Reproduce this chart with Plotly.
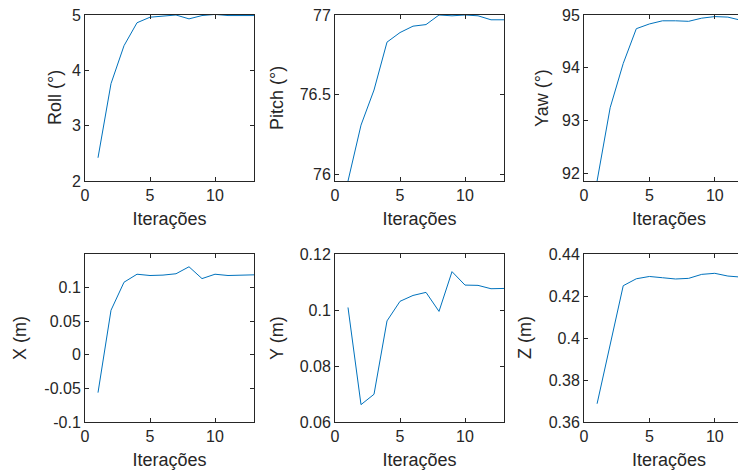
import plotly.graph_objects as go

iters = [1, 2, 3, 4, 5, 6, 7, 8, 9, 10, 11, 12, 13]
roll = [2.42, 3.76, 4.445, 4.86, 4.96, 4.98, 5.0, 4.93, 4.99, 5.01, 4.99, 4.99, 4.99]
pitch = [75.96, 76.31, 76.53, 76.83, 76.89, 76.93, 76.94, 77.0, 76.995, 77.0, 76.995, 76.97, 76.97]
yaw = [91.85, 93.24, 94.08, 94.74, 94.83, 94.89, 94.89, 94.88, 94.94, 94.97, 94.96, 94.90, 94.89]
xpos = [-0.0563, 0.0663, 0.108, 0.1199, 0.118, 0.1186, 0.1206, 0.131, 0.1134, 0.1199, 0.118, 0.119, 0.119]
ypos = [0.1009, 0.0662, 0.0699, 0.0961, 0.1031, 0.1052, 0.1063, 0.0995, 0.1137, 0.1089, 0.1088, 0.1076, 0.1077]
zpos = [0.3687, 0.397, 0.4249, 0.4282, 0.4293, 0.4287, 0.4281, 0.4284, 0.4303, 0.4308, 0.4295, 0.429, 0.429]

series = [roll, pitch, yaw, xpos, ypos, zpos]
ylabels = ["Roll (°)", "Pitch (°)", "Yaw (°)", "X (m)", "Y (m)", "Z (m)"]
yranges = [[2, 5], [75.96, 77], [91.85, 95], [-0.1, 0.15], [0.06, 0.12], [0.36, 0.44]]
ytickvals = [[2, 3, 4, 5], [76, 76.5, 77], [92, 93, 94, 95],
             [-0.1, -0.05, 0, 0.05, 0.1], [0.06, 0.08, 0.1, 0.12], [0.36, 0.38, 0.4, 0.42, 0.44]]
yticktext = [["2", "3", "4", "5"], ["76", "76.5", "77"], ["92", "93", "94", "95"],
             ["-0.1", "-0.05", "0", "0.05", "0.1"], ["0.06", "0.08", "0.1", "0.12"],
             ["0.36", "0.38", "0.4", "0.42", "0.44"]]
xlabel = "Iterações"

W, H = 746, 474
OFF = 8  # default page body margin
col_px = [(85, 254), (335, 504), (584, 754)]
row_px = [(15, 181), (254, 422)]
ytitle_x_px = [55, 277, 542, 20, 277, 525]

fig = go.Figure()
ink = "#262626"
font_family = "Liberation Sans, Arial, sans-serif"
tick_size = 16
label_size = 18

for i, vals in enumerate(series):
    r, c = divmod(i, 3)
    n = i + 1
    xa = "xaxis" if n == 1 else f"xaxis{n}"
    ya = "yaxis" if n == 1 else f"yaxis{n}"
    xref = "x" if n == 1 else f"x{n}"
    yref = "y" if n == 1 else f"y{n}"
    fig.add_trace(go.Scatter(x=iters, y=vals, mode="lines",
                             line=dict(color="#0072BD", width=1),
                             xaxis=xref, yaxis=yref, showlegend=False))
    x0, x1 = [v - OFF for v in col_px[c]]
    y0, y1 = [v - OFF for v in row_px[r]]
    fig.layout[xa] = dict(
        domain=[x0 / W, min(x1 / W, 1)], anchor=yref, range=[0, 13],
        tickvals=[0, 5, 10], ticktext=["0", "5", "10"],
        ticks="inside", ticklen=4, tickcolor=ink, tickwidth=1,
        showline=True, linecolor=ink, linewidth=1, mirror="ticks",
        showgrid=False, zeroline=False, automargin=False,
        ticklabeloverflow="allow",
        tickfont=dict(size=tick_size, color=ink, family=font_family),
        title=dict(text=xlabel, font=dict(size=label_size, color=ink, family=font_family), standoff=9),
    )
    fig.layout[ya] = dict(
        domain=[1 - y1 / H, 1 - y0 / H], anchor=xref, range=yranges[i],
        tickvals=ytickvals[i], ticktext=yticktext[i],
        ticks="inside", ticklen=4, tickcolor=ink, tickwidth=1,
        showline=True, linecolor=ink, linewidth=1, mirror="ticks",
        showgrid=False, zeroline=False, automargin=False,
        ticklabeloverflow="allow",
        tickfont=dict(size=tick_size, color=ink, family=font_family),
    )
    fig.add_annotation(
        text=ylabels[i], textangle=-90, showarrow=False,
        xref="paper", yref="paper",
        x=(ytitle_x_px[i] - OFF) / W, y=1 - ((y0 + y1) / 2) / H,
        xanchor="center", yanchor="middle",
        font=dict(size=label_size, color=ink, family=font_family),
    )

fig.update_layout(width=W, height=H, margin=dict(l=0, r=0, t=0, b=0),
                  paper_bgcolor="white", plot_bgcolor="white")
fig.write_html("out.html")
